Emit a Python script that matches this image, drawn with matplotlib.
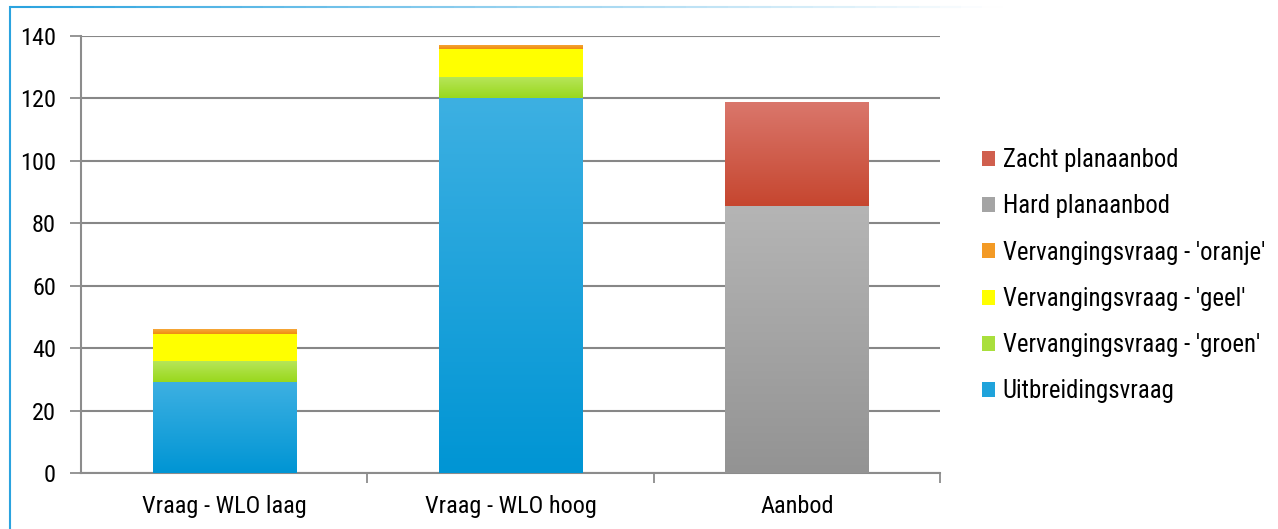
import numpy as np
import matplotlib.pyplot as plt
from matplotlib import font_manager
from matplotlib.patches import Patch
from matplotlib.lines import Line2D

installed = {f.name for f in font_manager.fontManager.ttflist}
narrow = [f for f in ['Roboto Condensed', 'Liberation Sans Narrow', 'DejaVu Sans Condensed',
                      'Open Sans Condensed', 'Roboto'] if f in installed]
plt.rcParams['font.family'] = narrow[:1] + ['DejaVu Sans']

categories = ['Vraag - WLO laag', 'Vraag - WLO hoog', 'Aanbod']

uitbreiding = [29, 120, 0]
groen = [7, 7, 0]
geel = [8.5, 8.7, 0]
oranje = [1.5, 1.3, 0]
hard = [0, 0, 85.5]
zacht = [0, 0, 33.4]

series = [
    ('Uitbreidingsvraag', uitbreiding, '#3db0e2', '#0095d4'),
    ("Vervangingsvraag - 'groen'", groen, '#b8e65c', '#99d81c'),
    ("Vervangingsvraag - 'geel'", geel, '#ffff00', '#ffff00'),
    ("Vervangingsvraag - 'oranje'", oranje, '#f6a83a', '#ef8c10'),
    ('Hard planaanbod', hard, '#b5b5b5', '#939393'),
    ('Zacht planaanbod', zacht, '#da776c', '#c6462f'),
]

fig = plt.figure(figsize=(12.78, 5.29), dpi=100)
ax = fig.add_axes([0.0634, 0.1059, 0.6721, 0.8261])

x = np.arange(len(categories))
bottom = np.zeros(len(categories))
handles = []
for label, vals, top_c, bot_c in series:
    vals = np.array(vals, dtype=float)
    bars = ax.bar(x, vals, 0.5, bottom=bottom, color=bot_c, zorder=3, linewidth=0)
    cmap = plt.matplotlib.colors.LinearSegmentedColormap.from_list(label, [bot_c, top_c])
    grad = np.linspace(0, 1, 256).reshape(-1, 1)
    for b in bars:
        if b.get_height() <= 0:
            continue
        x0, y0 = b.get_x(), b.get_y()
        im = ax.imshow(grad, cmap=cmap, origin='lower', aspect='auto',
                       extent=[x0, x0 + b.get_width(), y0, y0 + b.get_height()],
                       zorder=3.5, interpolation='bicubic')
        im.set_clip_path(b)
    handles.append(Patch(facecolor=plt.matplotlib.colors.to_hex(cmap(0.5)), edgecolor='none', label=label))
    bottom += vals

ax.set_xlim(-0.5, 2.5)
ax.set_ylim(0, 140)
ax.set_yticks(range(0, 141, 20))
ax.set_xticks(x)
ax.set_xticklabels(categories)
ax.set_xticks([0.5, 1.5, 2.5], minor=True)
ax.tick_params(axis='x', which='major', length=0, pad=16, labelsize=17.5)
ax.tick_params(axis='x', which='minor', length=7, width=1.3, color='#8c8c8c', direction='out')
ax.tick_params(axis='y', length=8, width=1.3, color='#8c8c8c', pad=10, labelsize=17.5)
ax.yaxis.grid(True, color='#878787', linewidth=1.5, zorder=1)
ax.set_axisbelow(True)
for s in ['top', 'right']:
    ax.spines[s].set_visible(False)
for s in ['left', 'bottom']:
    ax.spines[s].set_color('#8c8c8c')
    ax.spines[s].set_linewidth(1.5)

fig.legend(handles=handles[::-1], loc='upper left', bbox_to_anchor=(0.768, 0.72),
           frameon=False, fontsize=17.8, handlelength=0.55, handleheight=0.55,
           handletextpad=0.3, labelspacing=0.9, borderpad=0, borderaxespad=0)

# light blue chart frame fading out along the top
fig.add_artist(Line2D([0.0075, 0.0075], [0, 0.987], color='#2ba3df', linewidth=1.5))
n = 60
xs = np.linspace(0.0075, 1.0, n + 1)
for i in range(n):
    a = max(0.0, 1 - i / n * 1.3)
    fig.add_artist(Line2D([xs[i], xs[i + 1]], [0.987, 0.987], color='#2ba3df',
                          linewidth=1.5, alpha=a, solid_capstyle='butt'))

fig.savefig('out.png', dpi=100)
